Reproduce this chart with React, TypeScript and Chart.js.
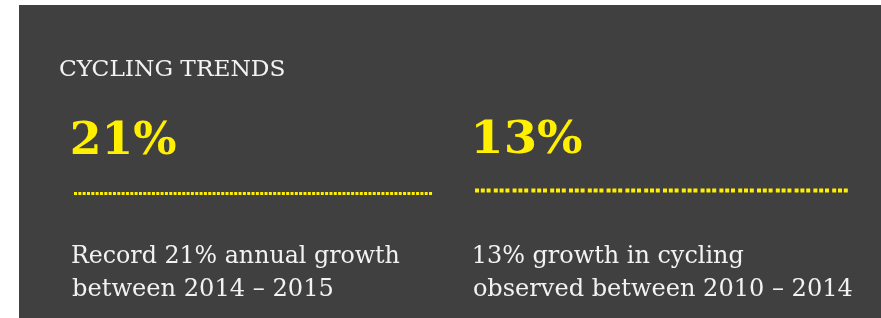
import React, { useEffect, useRef } from "react";
import { Chart, registerables } from "chart.js";

Chart.register(...registerables);

// ---- content ----
const title = "CYCLING TRENDS";
const headlineValues = [21, 13];
const headlineSuffix = "%";
const descriptionFirstLines = ["Record 21% annual growth", "13% growth in cycling"];
const descriptionSecondLines = ["between 2014 – 2015", "observed between 2010 – 2014"];

const W = 881;
const H = 318;
const BG = "#404040";
const YELLOW = "#FFEF00";
const TEXT = "#F2F2F2";
const SERIF = '"DejaVu Serif Condensed", "DejaVu Serif", serif';

type Ctx = CanvasRenderingContext2D;

function drawFit(ctx: Ctx, text: string, x: number, y: number, width: number) {
  const m = ctx.measureText(text);
  const left = m.actualBoundingBoxLeft;
  const ink = m.actualBoundingBoxRight + left;
  const s = ink > 0 ? width / ink : 1;
  ctx.save();
  ctx.translate(x, y);
  ctx.scale(s, 1);
  ctx.fillText(text, left, 0);
  ctx.restore();
}

function dotted(ctx: Ctx, x1: number, x2: number, y: number, lw: number, dash: number[]) {
  ctx.save();
  ctx.strokeStyle = YELLOW;
  ctx.lineWidth = lw;
  ctx.lineCap = "butt";
  ctx.setLineDash(dash);
  ctx.beginPath();
  ctx.moveTo(x1, y);
  ctx.lineTo(x2, y);
  ctx.stroke();
  ctx.restore();
}

const infographicPlugin = {
  id: "infographic",
  beforeDraw(chart: any) {
    const ctx: Ctx = chart.ctx;
    ctx.save();
    ctx.fillStyle = "#ffffff";
    ctx.fillRect(0, 0, W, H);
    ctx.fillStyle = BG;
    ctx.fillRect(19, 5, W - 19, H - 5);

    ctx.textBaseline = "alphabetic";
    ctx.textAlign = "left";

    // title
    ctx.fillStyle = TEXT;
    ctx.font = `23px ${SERIF}`;
    drawFit(ctx, title, 60, 76, 224);

    // headlines
    ctx.fillStyle = YELLOW;
    ctx.font = `bold 45px ${SERIF}`;
    const hx = [72, 475];
    const hy = [154, 153];
    const hw = [104, 107];
    headlineValues.forEach((v, i) => {
      drawFit(ctx, `${v}${headlineSuffix}`, hx[i], hy[i], hw[i]);
    });

    // dotted separators
    dotted(ctx, 74, 433, 193.5, 3, [3, 1.33]);
    dotted(ctx, 475, 851, 190.5, 4, [4, 1.8, 4, 1.8, 4, 3.2]);

    // descriptions
    ctx.fillStyle = TEXT;
    ctx.font = `24px ${SERIF}`;
    const dx = [72, 474];
    const w1 = [328, 270];
    const w2 = [261, 378];
    descriptionFirstLines.forEach((t, i) => drawFit(ctx, t, dx[i], 263, w1[i]));
    descriptionSecondLines.forEach((t, i) => drawFit(ctx, t, dx[i], 296, w2[i]));
    ctx.restore();
  },
};

export default function App() {
  const ref = useRef<HTMLCanvasElement | null>(null);
  useEffect(() => {
    if (!ref.current) return;
    const chart = new Chart(ref.current, {
      type: "bar",
      data: {
        labels: descriptionSecondLines,
        datasets: [
          {
            label: "growth %",
            data: headlineValues,
            backgroundColor: "rgba(0,0,0,0)",
            borderWidth: 0,
          },
        ],
      },
      options: {
        animation: false,
        responsive: false,
        devicePixelRatio: 1,
        events: [],
        layout: { padding: 0 },
        scales: { x: { display: false }, y: { display: false } },
        plugins: { legend: { display: false }, tooltip: { enabled: false }, title: { display: false } },
      },
      plugins: [infographicPlugin],
    });
    return () => chart.destroy();
  }, []);
  return (
    <div style={{ position: "absolute", left: 0, top: 0, width: W, height: H, background: "#fff" }}>
      <canvas ref={ref} width={W} height={H} style={{ display: "block" }} />
    </div>
  );
}
